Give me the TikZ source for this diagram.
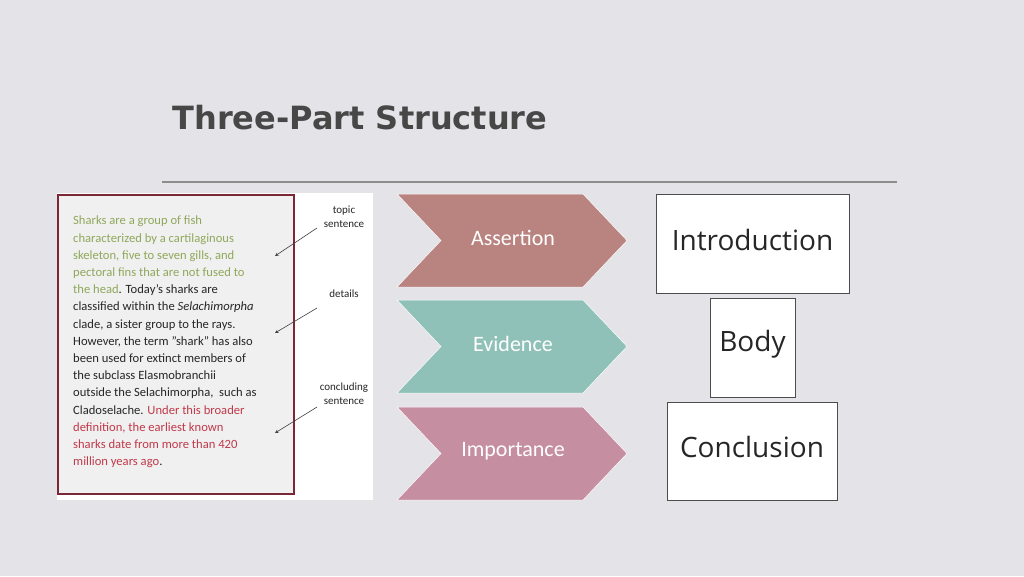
\documentclass[tikz,border=0pt]{standalone}
\usepackage{fontspec}
\setmainfont{Carlito}
\newfontfamily\titlefont{DejaVu Sans}
\newfontfamily\boxfont{Open Sans}
\definecolor{bg}{HTML}{E3E3E8}
\definecolor{green1}{HTML}{8FA85A}
\definecolor{red1}{HTML}{C0394A}
\definecolor{maroon1}{HTML}{7A2838}
\definecolor{ca}{HTML}{B9837F}
\definecolor{ce}{HTML}{8FC1B9}
\definecolor{ci}{HTML}{C58FA1}
\tikzset{
 chev/.style={fill=#1, draw=white, line width=0.5pt},
 chevtext/.style={text=white, font=\fontsize{22}{26}\selectfont},
 rbox/.style={draw=black!70, fill=white, line width=0.8pt},
 rtext/.style={font=\boxfont\fontsize{28}{32}\selectfont, text=black!85},
 note/.style={font=\fontsize{11}{14}\selectfont, align=center, text=black!85},
 ptr/.style={-stealth, draw=black!75, line width=0.6pt}
}
\begin{document}
\begin{tikzpicture}[x=1pt,y=-1pt]
\fill[bg] (0,0) rectangle (1024,576);
\useasboundingbox (0,0) rectangle (1024,576);
\node[anchor=west, font=\titlefont\bfseries\fontsize{32}{36}\selectfont, text=black!72] (title) at (169,118) {Three-Part Structure};
\draw[black!45, line width=2pt] (162,182) -- (897,182);
% paragraph image
\fill[white] (57,193) rectangle (373,500);
\draw[maroon1, fill=black!6, line width=2pt] (58,195) rectangle (294,494);
\node[anchor=north west, align=left, font=\fontsize{12.6}{17.2}\selectfont, text=black!85, inner sep=0pt] (para) at (73,216) {%
\textcolor{green1}{Sharks are a group of fish}\\
\textcolor{green1}{characterized by a cartilaginous}\\
\textcolor{green1}{skeleton, five to seven gills, and}\\
\textcolor{green1}{pectoral fins that are not fused to}\\
\textcolor{green1}{the head}. Today's sharks are\\
classified within the \textit{Selachimorpha}\\
clade, a sister group to the rays.\\
However, the term "shark" has also\\
been used for extinct members of\\
the subclass Elasmobranchii\\
outside the Selachimorpha,\ \ such as\\
Cladoselache. \textcolor{red1}{Under this broader}\\
\textcolor{red1}{definition, the earliest known}\\
\textcolor{red1}{sharks date from more than 420}\\
\textcolor{red1}{million years ago}.};
\node[note] (n1) at (344,217) {topic\\sentence};
\node[note] (n2) at (344,294) {details};
\node[note] (n3) at (344,394) {concluding\\sentence};
\coordinate (t1) at (275,256);
\coordinate (t2) at (275,333);
\coordinate (t3) at (275,433);
\draw[ptr] (317,228) -- (t1);
\draw[ptr] (317,308) -- (t2);
\draw[ptr] (317,407) -- (t3);
% chevrons
\foreach \y/\c/\t/\n in {194/ca/Assertion/a, 300/ce/Evidence/e, 407/ci/Importance/i}{
 \draw[chev=\c] (397,\y) -- (583,\y) -- (627,\y+46.5) -- (583,\y+93) -- (397,\y+93) -- (441,\y+46.5) -- cycle;
 \node[chevtext] (c\n) at (513,\y+44) {\t};
}
% right boxes
\node[rbox, minimum width=193, minimum height=99] (intro) at (752.5,243.5) {};
\node[rtext] at (752.5,240) {Introduction};
\node[rbox, minimum width=85, minimum height=99] (body) at (752.5,347.5) {};
\node[rtext] at (752.5,344) {Body};
\node[rbox, minimum width=170, minimum height=98] (concl) at (752,451) {};
\node[rtext] at (752,447) {Conclusion};
\end{tikzpicture}
\end{document}
